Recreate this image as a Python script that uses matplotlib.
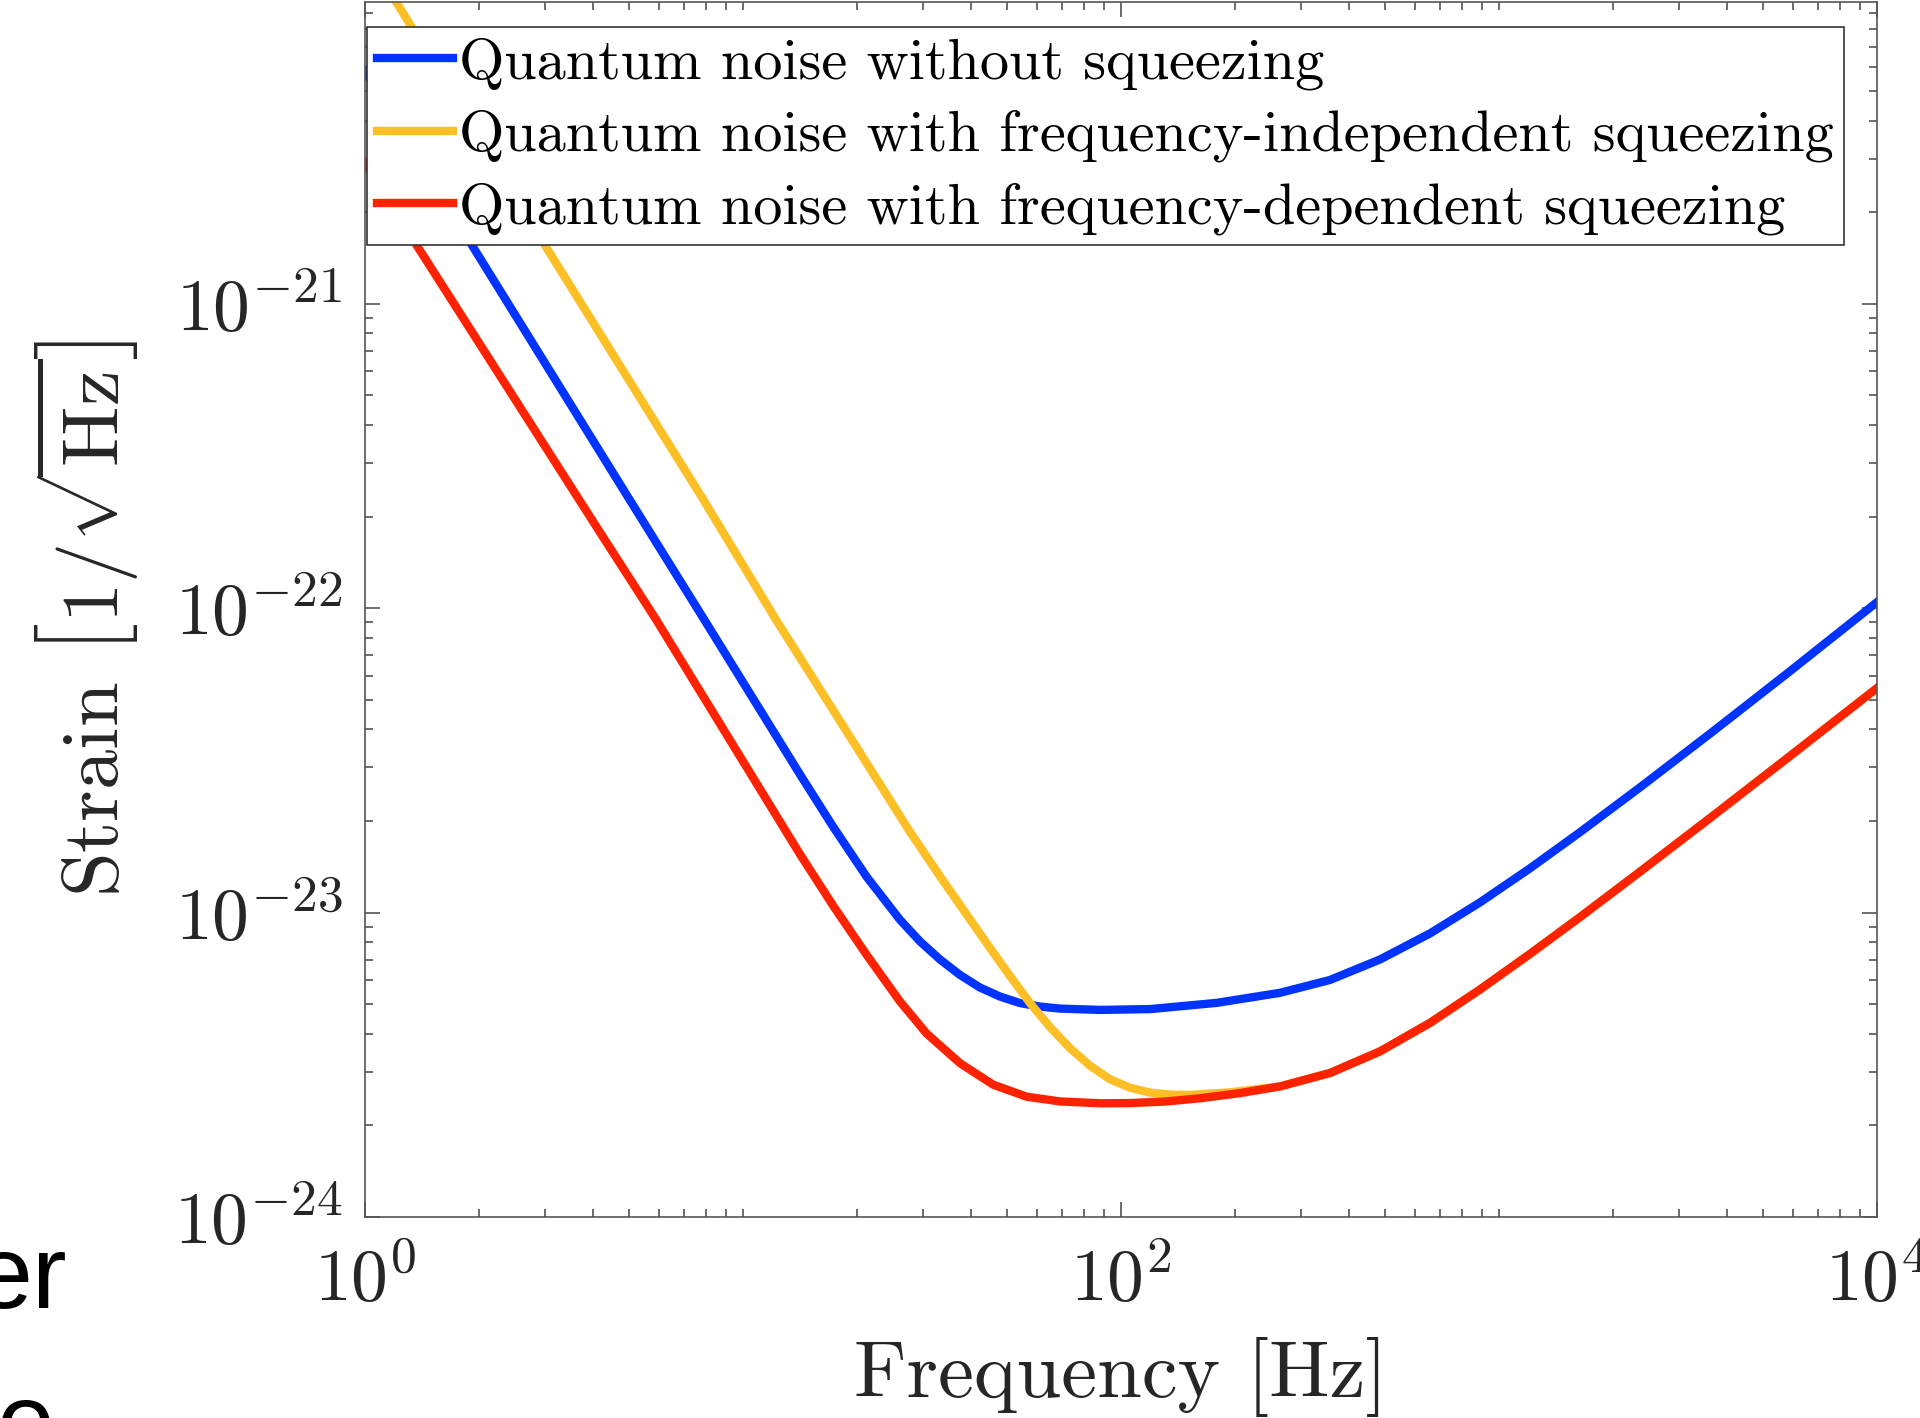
import numpy as np
import matplotlib
matplotlib.use('Agg')
import matplotlib.pyplot as plt
from matplotlib.ticker import FixedLocator, LogLocator, FuncFormatter, NullFormatter

# values (frequency in Hz, strain in 1/sqrt(Hz))
freq_blue = [1, 1.917, 4.99, 7.87, 14.23, 17.34, 21.24, 26.03, 29.40, 33.20, 37.52, 42.36,
             47.86, 54.06, 61.05, 68.96, 87.99, 119.3, 179.1, 263.4, 357.1, 484.4, 656.9,
             890.5, 1208, 1638, 2360, 3660, 5845, 10000]
strain_blue = [5.82e-21, 1.56e-21, 2.293e-22, 9.236e-23, 2.813e-23, 1.909e-23, 1.311e-23,
               9.465e-24, 8.04e-24, 7.016e-24, 6.238e-24, 5.673e-24, 5.299e-24, 5.044e-24,
               4.912e-24, 4.838e-24, 4.790e-24, 4.819e-24, 5.052e-24, 5.451e-24, 6.007e-24,
               7.016e-24, 8.543e-24, 1.080e-23, 1.398e-23, 1.837e-23, 2.578e-23, 3.915e-23,
               6.166e-23, 1.047e-22]

freq_yellow = [1, 1.198, 2.99, 7.82, 12.18, 22.58, 27.37, 33.20, 39.86, 45.01, 50.85, 57.46,
               64.90, 73.31, 82.79, 93.52, 105.6, 119.3, 134.8, 152.2, 194.3, 263.4, 357.1,
               484.4, 656.9, 890.5, 1208, 1638, 2360, 3660, 5845, 10000]
strain_yellow = [1.43e-20, 1.0e-20, 1.56e-21, 2.293e-22, 9.236e-23, 2.746e-23, 1.879e-23,
                 1.316e-23, 9.502e-24, 7.656e-24, 6.19e-24, 5.044e-24, 4.206e-24, 3.586e-24,
                 3.141e-24, 2.835e-24, 2.659e-24, 2.563e-24, 2.524e-24, 2.518e-24, 2.569e-24,
                 2.685e-24, 2.972e-24, 3.5e-24, 4.342e-24, 5.588e-24, 7.317e-24, 9.665e-24,
                 1.362e-23, 2.068e-23, 3.246e-23, 5.466e-23]

freq_red = [1, 1.368, 4.18, 5.87, 14.15, 17.34, 21.24, 26.03, 30.62, 37.52, 45.93, 56.31,
            68.96, 87.99, 105.6, 132.1, 161.8, 206.5, 263.4, 357.1, 484.4, 656.9, 890.5,
            1208, 1638, 2360, 3660, 5845, 10000]
strain_red = [2.906e-21, 1.561e-21, 1.779e-22, 9.236e-23, 1.555e-23, 1.051e-23, 7.262e-24,
              5.102e-24, 4.004e-24, 3.2e-24, 2.72e-24, 2.484e-24, 2.397e-24, 2.364e-24,
              2.367e-24, 2.397e-24, 2.455e-24, 2.553e-24, 2.685e-24, 2.972e-24, 3.5e-24,
              4.342e-24, 5.588e-24, 7.317e-24, 9.665e-24, 1.362e-23, 2.068e-23, 3.246e-23,
              5.466e-23]

labels = ['Quantum noise without squeezing',
          'Quantum noise with frequency-independent squeezing',
          'Quantum noise with frequency-dependent squeezing']
colors = ['#0033ff', '#fdbf26', '#ff2200']

plt.rcParams['mathtext.fontset'] = 'cm'
plt.rcParams['font.family'] = ['cmr10']
plt.rcParams['axes.unicode_minus'] = False

fig = plt.figure(figsize=(19.2, 14.18), dpi=100)
ax = fig.add_axes([0.1901, 0.14175, 0.7875, 0.8568])

ax.loglog(freq_blue, strain_blue, color=colors[0], lw=6, label=labels[0])
ax.loglog(freq_yellow, strain_yellow, color=colors[1], lw=6, label=labels[1])
ax.loglog(freq_red, strain_red, color=colors[2], lw=6, label=labels[2])

ax.set_xlim(1, 1e4)
ax.set_ylim(1e-24, 0.98e-20)

ax.xaxis.set_major_locator(FixedLocator([1, 1e2, 1e4]))
ax.xaxis.set_minor_locator(LogLocator(base=10, subs=np.arange(1, 10), numticks=50))
ax.yaxis.set_major_locator(FixedLocator([1e-24, 1e-23, 1e-22, 1e-21]))
ax.yaxis.set_minor_locator(LogLocator(base=10, subs=np.arange(2, 10), numticks=50))
fmt = FuncFormatter(lambda v, p: r'$10^{%d}$' % int(round(np.log10(v))))
ax.xaxis.set_major_formatter(fmt)
ax.yaxis.set_major_formatter(fmt)
ax.xaxis.set_minor_formatter(NullFormatter())
ax.yaxis.set_minor_formatter(NullFormatter())

ax.tick_params(which='both', direction='in', top=True, right=True, color='#444444', width=1.1)
ax.tick_params(which='major', length=11, labelsize=53, labelcolor='#262626')
ax.tick_params(which='minor', length=6)
ax.tick_params(axis='x', which='major', pad=21)
ax.tick_params(axis='y', which='major', pad=16)
for s in ax.spines.values():
    s.set_color('#555555')
    s.set_linewidth(1.2)

ax.set_xlabel('Frequency [Hz]', fontsize=58, color='#262626')
ax.xaxis.set_label_coords(0.5, -0.0988)
ax.set_ylabel(r'$\mathrm{Strain}\ \left[1/\sqrt{\mathrm{Hz}}\right]$', fontsize=58, color='#262626')
ax.yaxis.set_label_coords(-0.148, 0.493)

leg = ax.legend(loc='upper left', bbox_to_anchor=(0.0013, 0.9794), borderaxespad=0,
                prop={'family': 'cmr10', 'size': 42}, handlelength=1.3, handletextpad=0.1,
                borderpad=0.18, labelspacing=0.34, fancybox=False, framealpha=1,
                edgecolor='#333333')
leg.get_frame().set_linewidth(1.2)

# leftover slide text cut by the screenshot
fig.text(0.0349, 0.0776, 'er', ha='right', va='baseline', fontsize=75, family='Liberation Sans')
fig.text(-0.002, -0.027, 'e', ha='left', va='baseline', fontsize=75, family='Liberation Sans')

fig.savefig('out.png', dpi=100)
